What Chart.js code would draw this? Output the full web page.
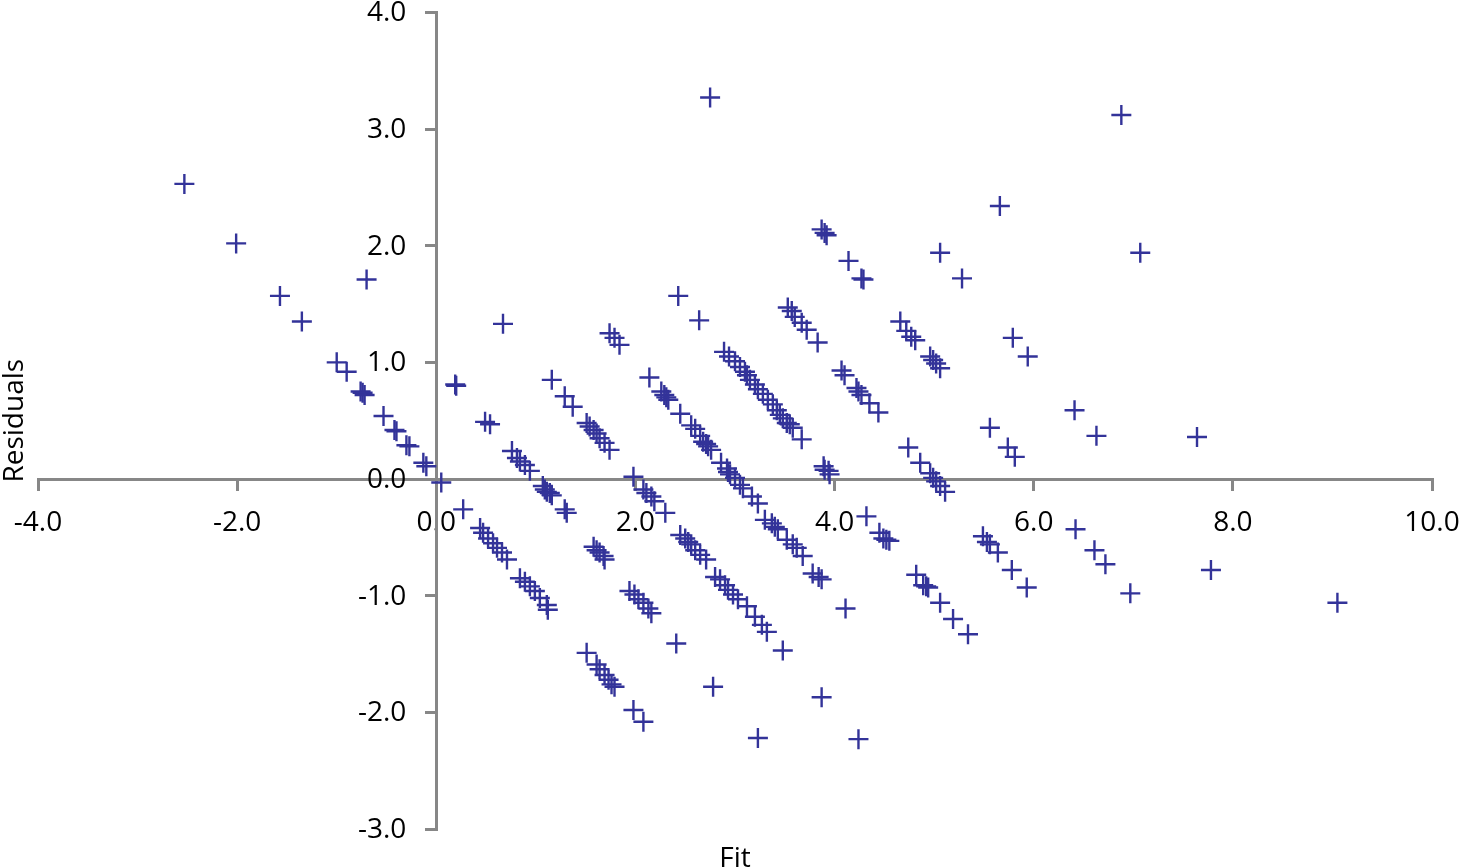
<!DOCTYPE html>
<html>
<head>
<meta charset="utf-8">
<title>Residuals vs Fit</title>
<script src="https://cdn.jsdelivr.net/npm/chart.js@4.4.1/dist/chart.umd.min.js"></script>
<style>
  html, body { margin: 0; padding: 0; background: #fff; }
  #wrap { position: relative; width: 1461px; height: 868px; }
</style>
</head>
<body>
<div id="wrap"><canvas id="resid-chart"></canvas></div>
<script>
// Colours and font
const AXIS_GREY = '#878787';
const MARKER_BLUE = '#333399';
const FONT_FAMILY = '"Open Sans", "Liberation Sans", sans-serif';
const FONT_SIZE = 28;

// Tick values
const xTicks = [-4, -2, 0, 2, 4, 6, 8, 10];
const yTicks = [-3, -2, -1, 0, 1, 2, 3, 4];

// Fitted values (one line per diagonal band)
const fitValues = [
    -2.53, -2.01, -1.57, -1.35, -1.00, -0.90, -0.76, -0.74, -0.72, -0.53, -0.42, -0.40, -0.30, -0.27, -0.13, -0.10, 0.05, 0.27, 0.44, 0.47, 0.52, 0.57, 0.61, 0.66, 0.71, 0.84, 0.89, 0.94, 0.99, 1.04, 1.11, 1.12, 1.51, 1.61, 1.64, 1.69, 1.73, 1.76, 1.79, 1.98, 2.08,
    -0.70, 0.19, 0.20, 0.49, 0.54, 0.76, 0.81, 0.84, 0.89, 0.94, 1.07, 1.09, 1.11, 1.14, 1.16, 1.29, 1.31, 1.58, 1.61, 1.64, 1.68, 1.69, 1.94, 1.99, 2.03, 2.08, 2.13, 2.16, 2.41, 2.78, 3.23,
    0.67, 1.16, 1.29, 1.37, 1.51, 1.54, 1.58, 1.61, 1.64, 1.69, 1.74, 1.98, 2.08, 2.11, 2.16, 2.19, 2.30, 2.45, 2.50, 2.53, 2.56, 2.60, 2.65, 2.71, 2.80, 2.85, 2.90, 2.93, 2.98, 3.03, 3.12, 3.20, 3.27, 3.32, 3.48, 3.87, 4.24,
    1.74, 1.79, 1.84, 2.14, 2.26, 2.29, 2.31, 2.33, 2.45, 2.56, 2.60, 2.65, 2.68, 2.71, 2.73, 2.76, 2.86, 2.92, 2.93, 2.95, 3.00, 3.05, 3.08, 3.17, 3.23, 3.30, 3.37, 3.40, 3.43, 3.52, 3.58, 3.62, 3.68, 3.78, 3.84, 3.87, 4.11,
    2.43, 2.64, 2.89, 2.94, 3.00, 3.05, 3.10, 3.12, 3.15, 3.20, 3.23, 3.28, 3.33, 3.38, 3.42, 3.45, 3.48, 3.52, 3.55, 3.58, 3.67, 3.89, 3.90, 3.94, 3.95, 4.32, 4.45, 4.49, 4.52, 4.55, 4.82, 4.89, 4.92, 4.94, 5.06, 5.19, 5.34,
    3.53, 3.57, 3.60, 3.67, 3.72, 3.83, 4.07, 4.10, 4.22, 4.24, 4.27, 4.35, 4.44, 4.74, 4.86, 4.96, 4.99, 5.02, 5.06, 5.11, 5.49, 5.53, 5.56, 5.64, 5.78, 5.93,
    2.75, 3.87, 3.90, 3.92, 4.14, 4.27, 4.29, 4.66, 4.72, 4.77, 4.81, 4.96, 4.99, 5.02, 5.06, 5.56, 5.74, 5.81, 6.42, 6.61, 6.72, 6.97,
    5.06, 5.28, 5.79, 5.94, 6.41, 6.63, 7.78,
    5.66, 7.64, 9.05,
    7.07, 6.88
];

// Residuals, same order as fitValues
const residualValues = [
    2.53, 2.02, 1.57, 1.35, 1.00, 0.92, 0.75, 0.74, 0.72, 0.54, 0.42, 0.41, 0.29, 0.28, 0.14, 0.11, -0.03, -0.26, -0.42, -0.46, -0.51, -0.55, -0.59, -0.63, -0.69, -0.85, -0.88, -0.92, -0.96, -1.02, -1.08, -1.12, -1.49, -1.59, -1.63, -1.68, -1.72, -1.76, -1.78, -1.98, -2.08,
    1.71, 0.81, 0.80, 0.49, 0.47, 0.24, 0.18, 0.15, 0.12, 0.07, -0.06, -0.09, -0.11, -0.12, -0.14, -0.26, -0.29, -0.58, -0.61, -0.63, -0.66, -0.69, -0.96, -0.99, -1.03, -1.06, -1.11, -1.15, -1.41, -1.78, -2.22,
    1.33, 0.85, 0.71, 0.62, 0.48, 0.45, 0.42, 0.39, 0.35, 0.31, 0.25, 0.02, -0.09, -0.12, -0.15, -0.19, -0.29, -0.48, -0.51, -0.54, -0.56, -0.61, -0.65, -0.69, -0.84, -0.86, -0.91, -0.95, -0.99, -1.03, -1.09, -1.18, -1.25, -1.31, -1.47, -1.87, -2.23,
    1.25, 1.21, 1.15, 0.87, 0.75, 0.72, 0.70, 0.68, 0.56, 0.46, 0.43, 0.37, 0.32, 0.30, 0.28, 0.25, 0.14, 0.09, 0.06, 0.04, 0.01, -0.05, -0.08, -0.15, -0.21, -0.35, -0.38, -0.41, -0.43, -0.52, -0.56, -0.59, -0.66, -0.81, -0.84, -0.86, -1.11,
    1.57, 1.36, 1.09, 1.05, 1.01, 0.96, 0.92, 0.89, 0.85, 0.81, 0.77, 0.73, 0.68, 0.64, 0.59, 0.55, 0.52, 0.48, 0.47, 0.44, 0.34, 0.11, 0.08, 0.07, 0.04, -0.32, -0.46, -0.51, -0.52, -0.53, -0.82, -0.91, -0.92, -0.93, -1.06, -1.20, -1.33,
    1.47, 1.44, 1.39, 1.34, 1.28, 1.17, 0.93, 0.89, 0.78, 0.75, 0.72, 0.65, 0.57, 0.27, 0.14, 0.05, 0.01, -0.02, -0.06, -0.11, -0.49, -0.54, -0.56, -0.63, -0.78, -0.93,
    3.27, 2.14, 2.11, 2.09, 1.87, 1.72, 1.71, 1.35, 1.27, 1.22, 1.19, 1.05, 1.02, 0.99, 0.95, 0.44, 0.27, 0.19, -0.43, -0.61, -0.73, -0.98,
    1.94, 1.72, 1.21, 1.05, 0.59, 0.37, -0.78,
    2.34, 0.36, -1.06,
    1.94, 3.12
];

const points = fitValues.map((fit, i) => ({ x: fit, y: residualValues[i] }));

// Y tick labels sit left of the crossing axis, plus both axis titles
const axisText = {
    id: 'axisText',
    afterDraw(chart) {
        const { ctx, chartArea, scales } = chart;
        const axisX = scales.x.getPixelForValue(0);
        ctx.save();
        ctx.fillStyle = '#000';
        ctx.font = FONT_SIZE + 'px ' + FONT_FAMILY;
        ctx.textAlign = 'right';
        ctx.textBaseline = 'middle';
        yTicks.forEach(v => {
            ctx.fillText(v.toFixed(1), axisX - 30, scales.y.getPixelForValue(v) + 1);
        });

        ctx.textAlign = 'center';
        ctx.textBaseline = 'alphabetic';
        ctx.fillText('Fit', (chartArea.left + chartArea.right) / 2, 867);

        ctx.translate(23, (chartArea.top + chartArea.bottom) / 2);
        ctx.rotate(-Math.PI / 2);
        ctx.fillText('Residuals', 0, 0);
        ctx.restore();
    }
};

const ctx = document.getElementById('resid-chart').getContext('2d');
const chart = new Chart(ctx, {
    type: 'scatter',
    data: {
        datasets: [{
            label: 'Residuals',
            data: points,
            pointStyle: 'cross',
            pointRadius: 10,
            pointHoverRadius: 10,
            pointBorderWidth: 2.4,
            borderColor: MARKER_BLUE,
            backgroundColor: MARKER_BLUE
        }]
    },
    options: {
        responsive: true,
        maintainAspectRatio: false,
        animation: false,
        events: [],
        layout: {
            padding: { left: 38, right: 29, top: 12, bottom: 39 }
        },
        plugins: {
            legend: { display: false },
            tooltip: { enabled: false }
        },
        scales: {
            x: {
                type: 'linear',
                position: { y: 0 },
                min: -4,
                max: 10,
                afterBuildTicks: scale => { scale.ticks = xTicks.map(v => ({ value: v })); },
                afterFit: scale => { scale.paddingLeft = 0; scale.paddingRight = 0; },
                border: { display: true, color: AXIS_GREY, width: 3 },
                grid: {
                    drawOnChartArea: false,
                    drawTicks: true,
                    tickLength: 10,
                    color: AXIS_GREY,
                    lineWidth: 3
                },
                ticks: {
                    color: '#000',
                    font: { family: FONT_FAMILY, size: FONT_SIZE },
                    padding: 17,
                    maxRotation: 0,
                    autoSkip: false,
                    callback: v => Number(v).toFixed(1)
                }
            },
            y: {
                type: 'linear',
                position: { x: 0 },
                min: -3,
                max: 4,
                afterBuildTicks: scale => { scale.ticks = yTicks.map(v => ({ value: v })); },
                afterFit: scale => { scale.paddingTop = 0; scale.paddingBottom = 0; },
                border: { display: true, color: AXIS_GREY, width: 3 },
                grid: {
                    drawOnChartArea: false,
                    drawTicks: true,
                    tickLength: 10,
                    color: AXIS_GREY,
                    lineWidth: 3
                },
                ticks: { display: false }
            }
        }
    },
    plugins: [axisText]
});
</script>
</body>
</html>
